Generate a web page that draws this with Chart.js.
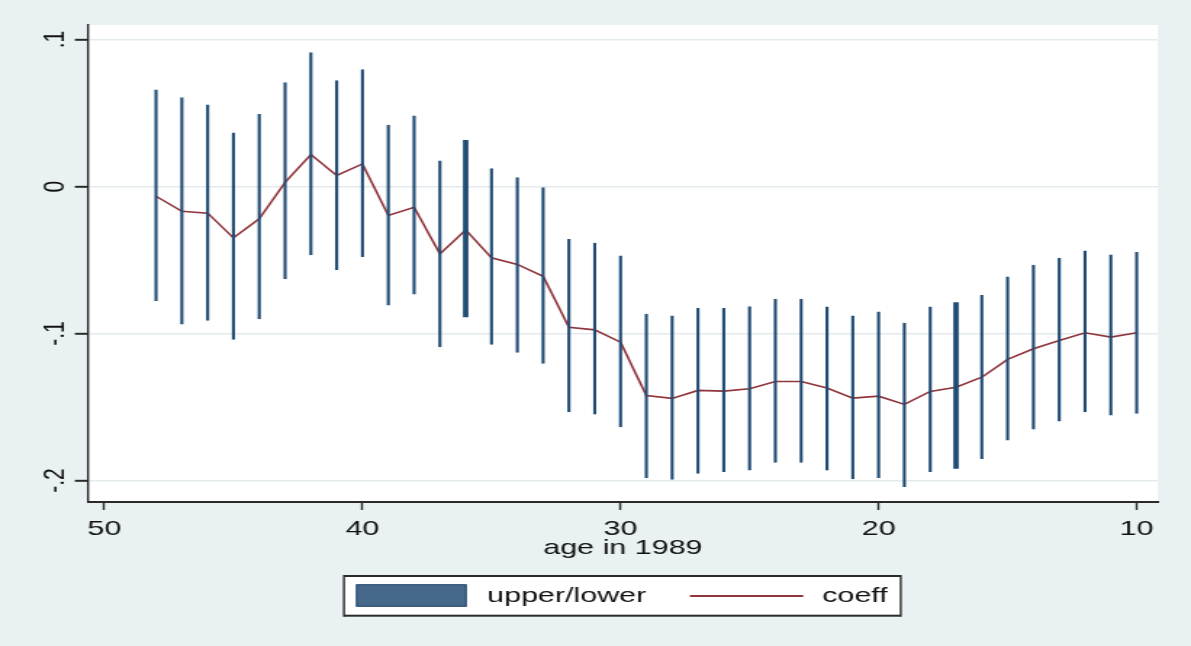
<!DOCTYPE html>
<html>
<head>
<meta charset="utf-8">
<script src="https://cdn.jsdelivr.net/npm/chart.js@4.4.1/dist/chart.umd.min.js"></script>
<style>
  html, body { margin: 0; padding: 0; background: #e9f1f3; }
</style>
</head>
<body>
<!-- the drawing surface is rendered narrow and widened on screen -->
<canvas id="c" width="821" height="646" style="display:block;width:1191px;height:646px;"></canvas>
<script>
// age in 1989
const ages = [48, 47, 46, 45, 44, 43, 42, 41, 40, 39, 38, 37, 36, 35, 34, 33, 32, 31, 30,
              29, 28, 27, 26, 25, 24, 23, 22, 21, 20, 19, 18, 17, 16, 15, 14, 13, 12, 11, 10];

// upper confidence bound
const upper = [0.0660, 0.0607, 0.0558, 0.0367, 0.0494, 0.0709, 0.0913, 0.0723, 0.0798, 0.0420,
               0.0483, 0.0177, 0.0317, 0.0125, 0.0063, 0.0000, -0.0356, -0.0383, -0.0469,
               -0.0866, -0.0877, -0.0827, -0.0827, -0.0814, -0.0764, -0.0764, -0.0816, -0.0877,
               -0.0850, -0.0927, -0.0816, -0.0787, -0.0737, -0.0612, -0.0532, -0.0485, -0.0435,
               -0.0462, -0.0446];

// lower confidence bound
const lower = [-0.0780, -0.0938, -0.0913, -0.1042, -0.0902, -0.0630, -0.0467, -0.0567, -0.0480,
               -0.0810, -0.0734, -0.1093, -0.0889, -0.1077, -0.1131, -0.1206, -0.1535, -0.1550,
               -0.1637, -0.1983, -0.1995, -0.1954, -0.1942, -0.1931, -0.1879, -0.1879, -0.1931,
               -0.1992, -0.1983, -0.2044, -0.1942, -0.1920, -0.1854, -0.1727, -0.1652, -0.1598,
               -0.1535, -0.1557, -0.1546];

// point estimate
const coeff = [-0.0066, -0.0168, -0.0181, -0.0349, -0.0220, 0.0029, 0.0218, 0.0075, 0.0154,
               -0.0197, -0.0141, -0.0458, -0.0295, -0.0485, -0.0530, -0.0610, -0.0957, -0.0975,
               -0.1059, -0.1421, -0.1441, -0.1387, -0.1392, -0.1376, -0.1326, -0.1326, -0.1371,
               -0.1439, -0.1426, -0.1482, -0.1394, -0.1365, -0.1297, -0.1176, -0.1104, -0.1047,
               -0.0995, -0.1024, -0.0995];

const xTickValues = [50, 40, 30, 20, 10];
const yTickValues = [0.1, 0, -0.1, -0.2];
const yTickLabels = ['.1', '0', '-.1', '-.2'];

const seriesLabels = ['upper/lower', 'coeff'];
const xTitle = 'age in 1989';

// ---- styling ----
const FONT = "'Liberation Sans', Arial, Helvetica, sans-serif";
const TEXT = '#111111';
const SPIKE = '#1f4b73';
const LINE = '#90353b';
const AXIS = '#2a2a2a';
const GRID = '#e3ebee';
const OUTER = '#e9f1f3';
const heavySpikes = new Set([36, 17]);

Chart.defaults.font.family = FONT;
Chart.defaults.font.size = 21;
Chart.defaults.color = TEXT;

const spikeData = ages.map((a, i) => ({ x: a, y: [lower[i], upper[i]] }));
const coeffData = ages.map((a, i) => ({ x: a, y: coeff[i] }));

// paints the outer region and the white plot region
const regionFill = {
  id: 'regionFill',
  beforeDraw(chart) {
    const { ctx, chartArea: a } = chart;
    ctx.save();
    ctx.fillStyle = OUTER;
    ctx.fillRect(0, 0, chart.width, chart.height);
    ctx.fillStyle = '#ffffff';
    ctx.fillRect(a.left, a.top, a.right - a.left, a.bottom - a.top);
    ctx.restore();
  }
};

// boxed legend under the x-axis title
const boxedLegend = {
  id: 'boxedLegend',
  afterDraw(chart) {
    const { ctx } = chart;
    const ds = chart.data.datasets;
    const box = { l: 237.1, r: 620.9, t: 576, b: 615.7 };
    ctx.save();
    ctx.fillStyle = '#ffffff';
    ctx.fillRect(box.l, box.t, box.r - box.l, box.b - box.t);
    ctx.fillStyle = AXIS;
    ctx.fillRect(box.l, box.t - 1, box.r - box.l, 2);
    ctx.fillRect(box.l, box.b - 1, box.r - box.l, 2);
    ctx.fillRect(box.l - 0.7, box.t - 1, 1.4, box.b - box.t + 2);
    ctx.fillRect(box.r - 0.7, box.t - 1, 1.4, box.b - box.t + 2);

    // range swatch
    ctx.fillStyle = '#46688a';
    ctx.fillRect(245.4, 584.3, 76.3, 22.4);
    ctx.strokeStyle = '#27496c';
    ctx.lineWidth = 1;
    ctx.strokeRect(245.9, 584.8, 75.3, 21.4);

    // line sample
    ctx.strokeStyle = ds[1].borderColor;
    ctx.lineWidth = 2;
    ctx.beginPath();
    ctx.moveTo(475.6, 596);
    ctx.lineTo(553.7, 596);
    ctx.stroke();

    ctx.fillStyle = TEXT;
    ctx.font = '21px ' + FONT;
    ctx.textAlign = 'left';
    ctx.textBaseline = 'alphabetic';
    ctx.fillText(ds[0].label, 335.8, 601.5);
    ctx.fillText(ds[1].label, 566.7, 602);
    ctx.restore();
  }
};

new Chart(document.getElementById('c'), {
  data: {
    datasets: [
      {
        type: 'bar',
        label: seriesLabels[0],
        data: spikeData,
        backgroundColor: SPIKE,
        borderColor: 'rgba(0,0,0,0)',
        borderSkipped: false,
        borderWidth: (c) => {
          const age = c.raw && c.raw.x;
          return heavySpikes.has(age) ? 0 : { left: 0.8, right: 0.8, top: 0, bottom: 0 };
        },
        barThickness: 3.7,
        inflateAmount: 0,
        grouped: false
      },
      {
        type: 'line',
        label: seriesLabels[1],
        data: coeffData,
        borderColor: LINE,
        backgroundColor: LINE,
        borderWidth: 1.6,
        pointRadius: 0,
        tension: 0,
        fill: false
      }
    ]
  },
  options: {
    responsive: false,
    devicePixelRatio: 1,
    animation: false,
    events: [],
    layout: { padding: { left: 0, right: 22.8, top: 25, bottom: 74 } },
    plugins: {
      legend: { display: false },
      tooltip: { enabled: false }
    },
    scales: {
      x: {
        type: 'linear',
        position: 'bottom',
        reverse: true,
        offset: false,
        min: 9.175,
        max: 50.64,
        afterBuildTicks: (s) => { s.ticks = xTickValues.map(v => ({ value: v })); },
        afterFit: (s) => { s.height = 70; },
        grid: {
          offset: false,
          drawOnChartArea: false,
          drawTicks: true,
          tickLength: 8,
          tickColor: AXIS,
          tickWidth: 1.4
        },
        border: { display: true, color: AXIS, width: 2 },
        ticks: {
          autoSkip: false,
          maxRotation: 0,
          minRotation: 0,
          padding: 6.6,
          color: TEXT,
          font: { size: 21 }
        },
        title: {
          display: true,
          text: xTitle,
          color: TEXT,
          font: { size: 21 },
          padding: { top: 0, bottom: 11.1 }
        }
      },
      y: {
        type: 'linear',
        position: 'left',
        min: -0.2146,
        max: 0.1099,
        afterBuildTicks: (s) => { s.ticks = yTickValues.map(v => ({ value: v })); },
        afterFit: (s) => { s.width = 60.6; },
        grid: {
          color: GRID,
          lineWidth: 1.6,
          drawTicks: true,
          tickLength: 9,
          tickColor: AXIS,
          tickWidth: 2
        },
        border: { display: true, color: AXIS, width: 1.4 },
        ticks: {
          autoSkip: false,
          minRotation: 90,
          maxRotation: 90,
          crossAlign: 'center',
          padding: 0.8,
          color: TEXT,
          font: { size: 21 },
          callback: (v) => {
            const k = yTickValues.findIndex(t => Math.abs(t - v) < 1e-9);
            return k >= 0 ? yTickLabels[k] : '';
          }
        }
      }
    }
  },
  plugins: [regionFill, boxedLegend]
});
</script>
</body>
</html>
